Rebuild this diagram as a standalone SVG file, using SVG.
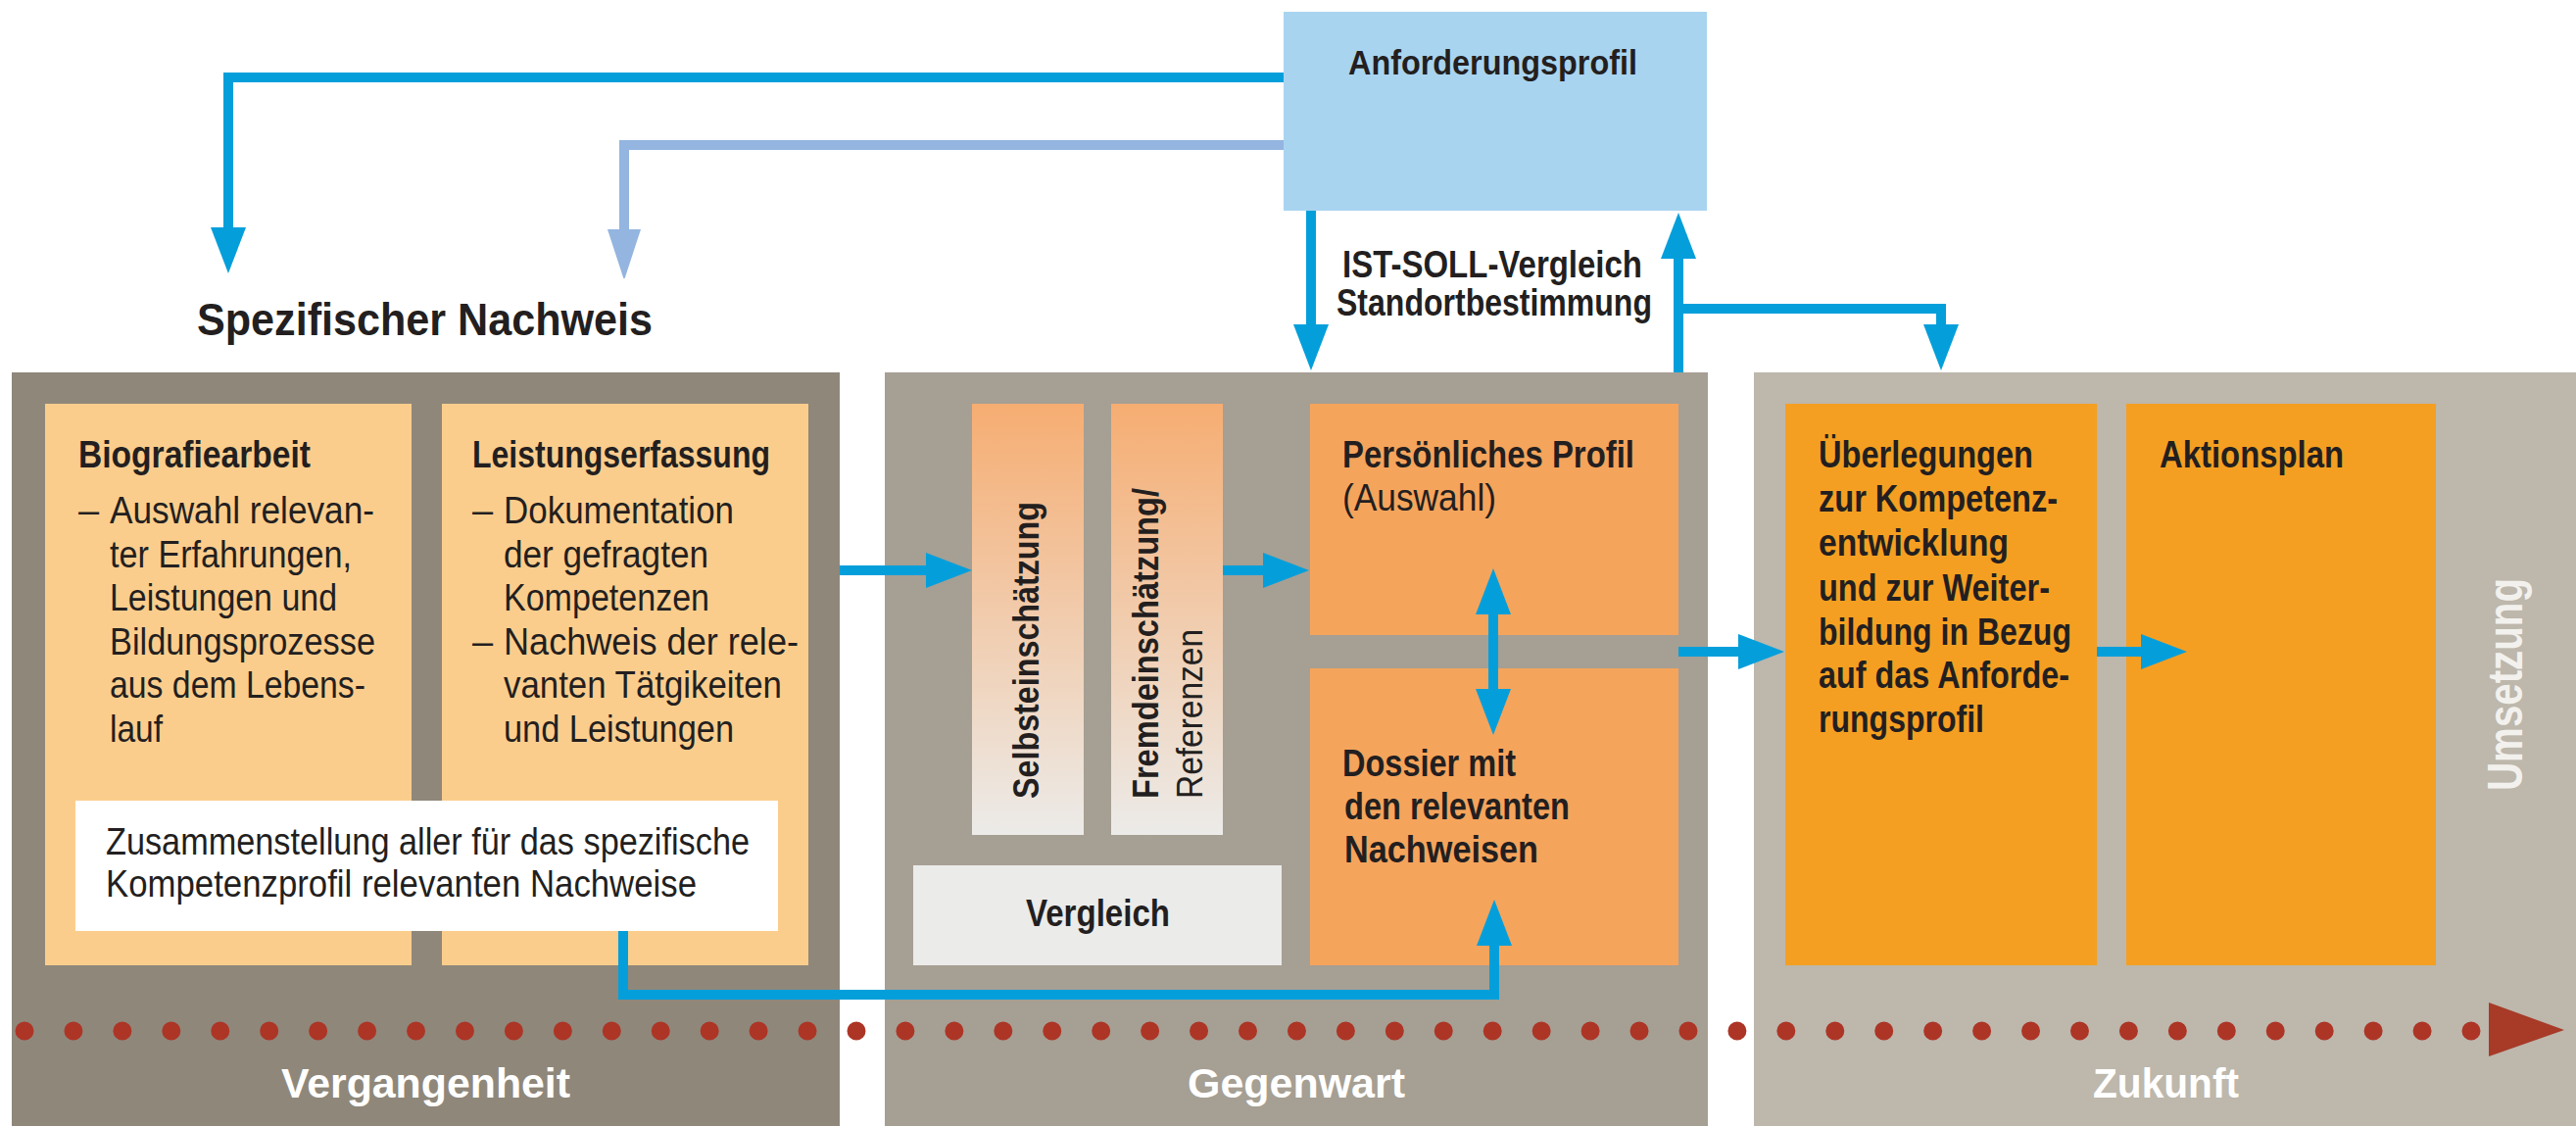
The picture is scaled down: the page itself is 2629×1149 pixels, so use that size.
<svg xmlns="http://www.w3.org/2000/svg" width="2629" height="1149" viewBox="0 0 2629 1149">
<style>
text{font-family:"Liberation Sans",Arial,sans-serif;fill:#231f20}
.b{font-weight:bold;font-size:38px}
.r{font-weight:normal;font-size:38px}
.w{font-weight:bold;font-size:43px;fill:#ffffff}
.conn{fill:none;stroke:#049fdb;stroke-width:10}
.light{fill:none;stroke:#93b5e0;stroke-width:10}
</style>
<defs>
<marker id="ah" markerUnits="userSpaceOnUse" markerWidth="50" markerHeight="40" viewBox="0 -20 50 40" refX="0" refY="0" orient="auto-start-reverse"><path d="M0,-18 L47,0 L0,18 Z" fill="#049fdb"/></marker>
<marker id="ahl" markerUnits="userSpaceOnUse" markerWidth="50" markerHeight="40" viewBox="0 -20 50 40" refX="0" refY="0" orient="auto"><path d="M0,-17 L52,0 L0,17 Z" fill="#93b5e0"/></marker>
<linearGradient id="bar" x1="0" y1="0" x2="0" y2="1">
<stop offset="0" stop-color="#f6ad72"/>
<stop offset="1" stop-color="#ecebe9"/>
</linearGradient>
</defs>
<rect width="2629" height="1149" fill="#ffffff"/>

<g id="band-vergangenheit">
<rect x="12" y="380" width="845" height="769" fill="#8f877a"/>
<text class="w" x="287" y="1120" textLength="295" lengthAdjust="spacingAndGlyphs">Vergangenheit</text>
</g>
<g id="band-gegenwart">
<rect x="903" y="380" width="840" height="769" fill="#a69f93"/>
<text class="w" x="1212" y="1120" textLength="222" lengthAdjust="spacingAndGlyphs">Gegenwart</text>
</g>
<g id="band-zukunft">
<rect x="1790" y="380" width="839" height="769" fill="#bdb7ac"/>
<text class="w" x="2136" y="1120" textLength="149" lengthAdjust="spacingAndGlyphs">Zukunft</text>
<text transform="translate(2574,807) rotate(-90)" style="font-weight:bold;font-size:50px;fill:#f3f1ed" textLength="217" lengthAdjust="spacingAndGlyphs">Umsetzung</text>
</g>

<g id="timeline">
<path d="M25,1052 H2522" fill="none" stroke="#ad3526" stroke-width="19" stroke-linecap="round" stroke-dasharray="0 49.94"/>
<polygon points="2540,1023 2617,1051 2540,1078" fill="#a83a28"/>
</g>

<g id="anforderungsprofil">
<rect x="1310" y="12" width="432" height="203" fill="#a9d4f0"/>
<text class="b" style="font-size:35px" x="1376" y="76" textLength="295" lengthAdjust="spacingAndGlyphs">Anforderungsprofil</text>
</g>

<g id="ist-soll-label">
<text class="b" x="1370" y="283" textLength="306" lengthAdjust="spacingAndGlyphs">IST-SOLL-Vergleich</text>
<text class="b" x="1364" y="322" textLength="322" lengthAdjust="spacingAndGlyphs">Standortbestimmung</text>
</g>

<g id="spezifischer-nachweis">
<text class="b" style="font-size:47px" x="201" y="342" textLength="465" lengthAdjust="spacingAndGlyphs">Spezifischer Nachweis</text>
</g>

<g id="biografiearbeit">
<rect x="46" y="412" width="374" height="573" fill="#fbcd8d"/>
<text class="b" x="80" y="477" textLength="237" lengthAdjust="spacingAndGlyphs">Biografiearbeit</text>
<text class="r" x="80" y="534">–</text>
<text class="r" x="112" y="534" textLength="270" lengthAdjust="spacingAndGlyphs">Auswahl relevan-</text>
<text class="r" x="112" y="579" textLength="247" lengthAdjust="spacingAndGlyphs">ter Erfahrungen,</text>
<text class="r" x="112" y="623" textLength="232" lengthAdjust="spacingAndGlyphs">Leistungen und</text>
<text class="r" x="112" y="668" textLength="271" lengthAdjust="spacingAndGlyphs">Bildungsprozesse</text>
<text class="r" x="112" y="712" textLength="261" lengthAdjust="spacingAndGlyphs">aus dem Lebens-</text>
<text class="r" x="112" y="757" textLength="54" lengthAdjust="spacingAndGlyphs">lauf</text>
</g>

<g id="leistungserfassung">
<rect x="451" y="412" width="374" height="573" fill="#fbcd8d"/>
<text class="b" x="482" y="477" textLength="304" lengthAdjust="spacingAndGlyphs">Leistungserfassung</text>
<text class="r" x="482" y="534">–</text>
<text class="r" x="514" y="534" textLength="235" lengthAdjust="spacingAndGlyphs">Dokumentation</text>
<text class="r" x="514" y="579" textLength="209" lengthAdjust="spacingAndGlyphs">der gefragten</text>
<text class="r" x="514" y="623" textLength="210" lengthAdjust="spacingAndGlyphs">Kompetenzen</text>
<text class="r" x="482" y="668">–</text>
<text class="r" x="514" y="668" textLength="301" lengthAdjust="spacingAndGlyphs">Nachweis der rele-</text>
<text class="r" x="514" y="712" textLength="284" lengthAdjust="spacingAndGlyphs">vanten Tätgikeiten</text>
<text class="r" x="514" y="757" textLength="235" lengthAdjust="spacingAndGlyphs">und Leistungen</text>
</g>

<g id="zusammenstellung">
<rect x="77" y="817" width="717" height="133" fill="#ffffff"/>
<text class="r" x="108" y="872" textLength="657" lengthAdjust="spacingAndGlyphs">Zusammenstellung aller für das spezifische</text>
<text class="r" x="108" y="915" textLength="603" lengthAdjust="spacingAndGlyphs">Kompetenzprofil relevanten Nachweise</text>
</g>

<g id="selbsteinschaetzung">
<rect x="992" y="412" width="114" height="440" fill="url(#bar)"/>
<text class="b" style="font-size:36px" transform="translate(1060,815) rotate(-90)" textLength="303" lengthAdjust="spacingAndGlyphs">Selbsteinschätzung</text>
</g>

<g id="fremdeinschaetzung">
<rect x="1134" y="412" width="114" height="440" fill="url(#bar)"/>
<text class="b" style="font-size:36px" transform="translate(1182,815) rotate(-90)" textLength="317" lengthAdjust="spacingAndGlyphs">Fremdeinschätzung/</text>
<text class="r" style="font-size:36px" transform="translate(1227,815) rotate(-90)" textLength="173" lengthAdjust="spacingAndGlyphs">Referenzen</text>
</g>

<g id="vergleich">
<rect x="932" y="883" width="376" height="102" fill="#ebebea"/>
<text class="b" x="1047" y="945" textLength="147" lengthAdjust="spacingAndGlyphs">Vergleich</text>
</g>

<g id="persoenliches-profil">
<rect x="1337" y="412" width="376" height="236" fill="#f5a45c"/>
<text class="b" x="1370" y="477" textLength="298" lengthAdjust="spacingAndGlyphs">Persönliches Profil</text>
<text class="r" x="1370" y="521" textLength="157" lengthAdjust="spacingAndGlyphs">(Auswahl)</text>
</g>

<g id="dossier">
<rect x="1337" y="682" width="376" height="303" fill="#f5a45c"/>
<text class="b" x="1370" y="792" textLength="177" lengthAdjust="spacingAndGlyphs">Dossier mit</text>
<text class="b" x="1372" y="836" textLength="230" lengthAdjust="spacingAndGlyphs">den relevanten</text>
<text class="b" x="1372" y="880" textLength="198" lengthAdjust="spacingAndGlyphs">Nachweisen</text>
</g>

<g id="ueberlegungen">
<rect x="1822" y="412" width="318" height="573" fill="#f59f22"/>
<text class="b" x="1856" y="477" textLength="219" lengthAdjust="spacingAndGlyphs">Überlegungen</text>
<text class="b" x="1856" y="522" textLength="244" lengthAdjust="spacingAndGlyphs">zur  Kompetenz-</text>
<text class="b" x="1856" y="567" textLength="194" lengthAdjust="spacingAndGlyphs">entwicklung</text>
<text class="b" x="1856" y="613" textLength="236" lengthAdjust="spacingAndGlyphs">und zur Weiter-</text>
<text class="b" x="1856" y="658" textLength="258" lengthAdjust="spacingAndGlyphs">bildung in Bezug</text>
<text class="b" x="1856" y="702" textLength="256" lengthAdjust="spacingAndGlyphs">auf das Anforde-</text>
<text class="b" x="1856" y="747" textLength="169" lengthAdjust="spacingAndGlyphs">rungsprofil</text>
</g>

<g id="aktionsplan">
<rect x="2170" y="412" width="316" height="573" fill="#f59f22"/>
<text class="b" x="2204" y="477" textLength="188" lengthAdjust="spacingAndGlyphs">Aktionsplan</text>
</g>

<g id="connectors">
<path class="conn" d="M1310,79 H233 V232" marker-end="url(#ah)"/>
<path class="light" d="M1310,148 H637 V234" marker-end="url(#ahl)"/>
<path class="conn" d="M1338,215 V331" marker-end="url(#ah)"/>
<path class="conn" d="M1713,380 V264" marker-end="url(#ah)"/>
<path class="conn" d="M1713,315 H1981 V331" marker-end="url(#ah)"/>
<path class="conn" d="M857,582 H945" marker-end="url(#ah)"/>
<path class="conn" d="M1248,582 H1289" marker-end="url(#ah)"/>
<path class="conn" d="M1524,627 V703" marker-start="url(#ah)" marker-end="url(#ah)"/>
<path class="conn" d="M1713,665 H1774" marker-end="url(#ah)"/>
<path class="conn" d="M2140,665 H2185" marker-end="url(#ah)"/>
<path class="conn" d="M636,950 V1015 H1525 V965" marker-end="url(#ah)"/>
</g>
</svg>
